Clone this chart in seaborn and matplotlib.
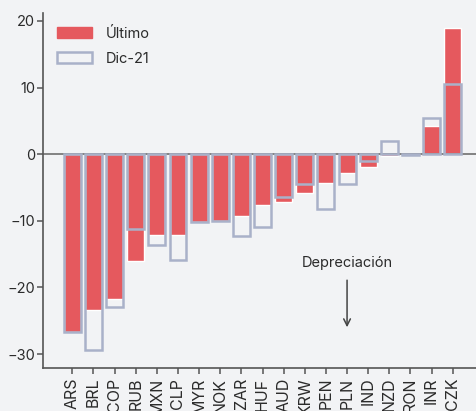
import matplotlib
matplotlib.use("Agg")
import matplotlib.pyplot as plt
import seaborn as sns
from matplotlib.patches import Patch

# values
currencies = ["ARS", "BRL", "COP", "RUB", "MXN", "CLP", "MYR", "NOK", "ZAR", "HUF",
              "AUD", "KRW", "PEN", "PLN", "IND", "NZD", "RON", "INR", "CZK"]
ultimo = [-26.7, -23.4, -21.8, -16.0, -12.1, -12.1, -10.2, -10.1, -9.3, -7.6,
          -7.2, -5.9, -4.3, -2.9, -1.9, -0.3, 0.05, 4.25, 18.95]
dic21 = [-26.7, -29.4, -22.9, -11.2, -13.7, -15.9, -10.2, -10.1, -12.3, -10.9,
         -6.4, -4.5, -8.3, -4.5, -1.05, 2.0, -0.1, 5.5, 10.5]

bg = "#f2f3f5"
red = "#e5595e"
outline = "#a9b1c9"
txt = "#2b2b2b"

sns.set_theme(style="white")
plt.rcParams["font.family"] = ["Inter", "DejaVu Sans"]

fig = plt.figure(figsize=(4.76, 4.11), dpi=100, facecolor=bg)
ax = fig.add_axes([0.091, 0.1046, 0.909, 0.864], facecolor=bg)

sns.barplot(x=currencies, y=ultimo, order=currencies, color=red, saturation=1,
            width=0.8, ax=ax, zorder=2)
ax.axhline(0, color="#7a7a7a", lw=1.3, zorder=2.5)
sns.barplot(x=currencies, y=dic21, order=currencies, color=outline, fill=False,
            width=0.8, linewidth=1.8, ax=ax, zorder=3)

ax.set_xlim(-1.37, 19.1)
ax.set_ylim(-32.1, 21.2)
ax.set_yticks([-30, -20, -10, 0, 10, 20])

for s in ["top", "right"]:
    ax.spines[s].set_visible(False)
for s in ["left", "bottom"]:
    ax.spines[s].set_color("#555555")
    ax.spines[s].set_linewidth(1.2)

ax.tick_params(axis="both", which="both", length=4, width=1.1, color="#555555",
               labelsize=10.5, labelcolor=txt, pad=2, bottom=True, left=True)
ax.tick_params(axis="x", labelrotation=90, labelsize=11.5, pad=3)
ax.set_xlabel("")
ax.set_ylabel("")

ax.annotate("", xy=(13, -26.4), xytext=(13, -18.5),
            arrowprops=dict(arrowstyle="->", color="#444444", lw=1.1))
ax.text(13, -16.4, "Depreciación", ha="center", va="center", fontsize=10.5, color=txt)

handles = [Patch(facecolor=red, edgecolor=red, label="Último"),
           Patch(facecolor=bg, edgecolor=outline, linewidth=1.8, label="Dic-21")]
ax.legend(handles=handles, loc="upper left", bbox_to_anchor=(0.007, 0.99), frameon=False,
          fontsize=10.5, handlelength=2.4, handleheight=0.8, handletextpad=1.0,
          labelcolor=txt, borderaxespad=0.3, labelspacing=0.75)

fig.savefig("out.png", dpi=100, facecolor=bg)
